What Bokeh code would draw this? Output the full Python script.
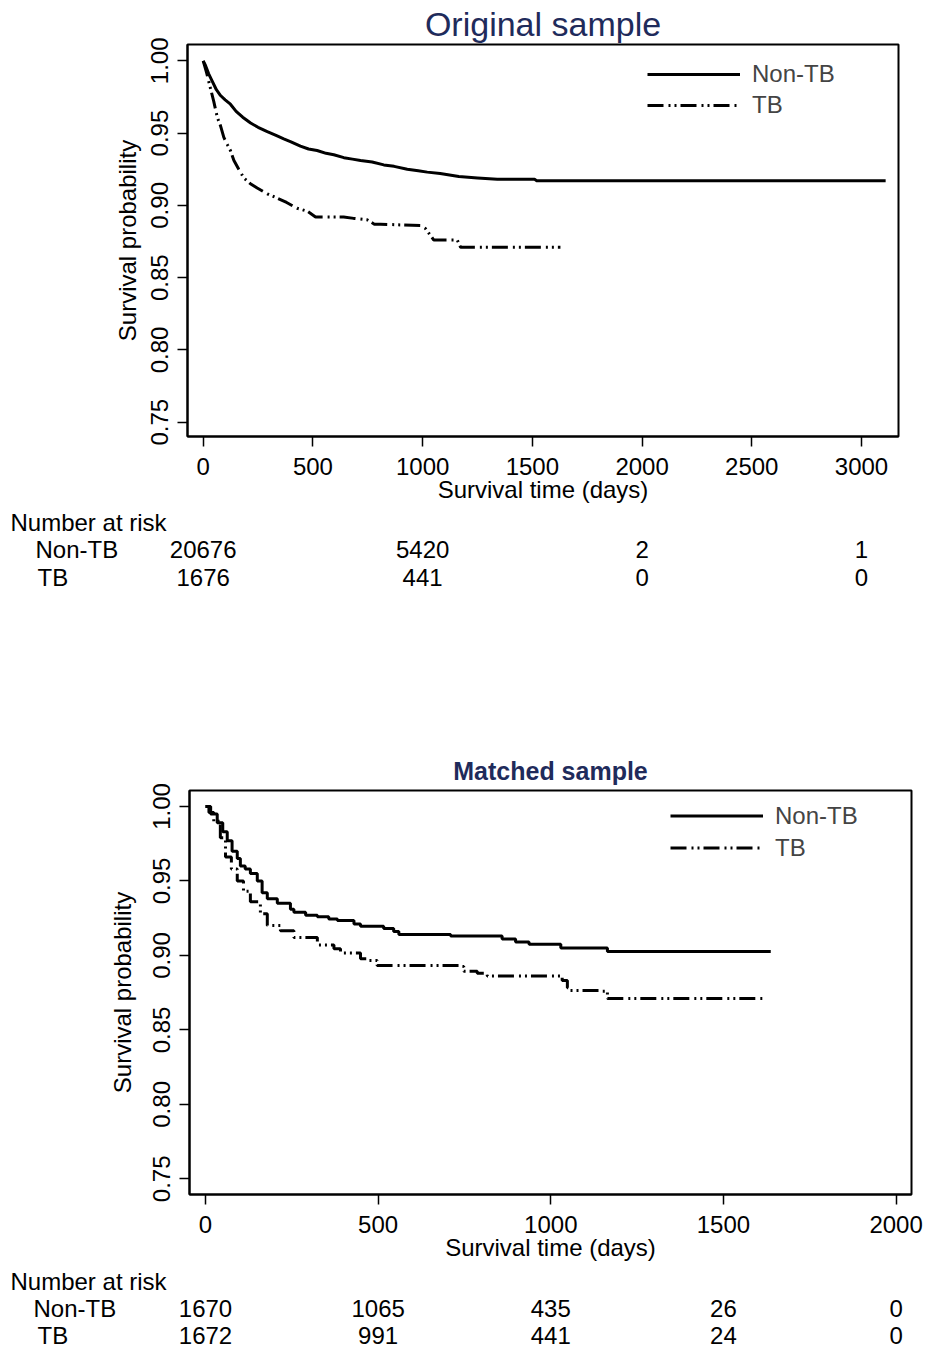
from bokeh.plotting import figure
from bokeh.models import (Label, LabelSet, ColumnDataSource, FixedTicker, Legend,
                          LegendItem, PrintfTickFormatter, Range1d)
from bokeh.core.properties import value
from bokeh.layouts import column
from bokeh.embed import file_html
from bokeh.resources import INLINE

# ---------------- data: original sample ----------------
orig_nontb_t = [0, 10, 25, 41, 60, 79, 100, 124, 150, 180, 216, 250, 292, 337, 367, 400, 443,
                480, 519, 560, 595, 641, 680, 717, 770, 823, 870, 930, 980, 1021, 1080, 1165,
                1250, 1340, 1510, 1520, 3110]
orig_nontb_s = [1.000, 0.997, 0.991, 0.986, 0.980, 0.976, 0.973, 0.970, 0.965, 0.961, 0.957,
                0.954, 0.951, 0.948, 0.946, 0.944, 0.941, 0.939, 0.938, 0.936, 0.935, 0.933,
                0.932, 0.931, 0.930, 0.928, 0.927, 0.925, 0.924, 0.923, 0.922, 0.920, 0.919,
                0.918, 0.918, 0.917, 0.917]
orig_tb_t = [0, 15, 33, 48, 64, 79, 94, 110, 124, 140, 162, 185, 215, 246, 292, 337, 380, 428,
             474, 512, 640, 686, 747, 780, 808, 990, 1013, 1051, 1158, 1173, 1628]
orig_tb_s = [1.000, 0.992, 0.981, 0.972, 0.961, 0.955, 0.947, 0.942, 0.938, 0.931, 0.925, 0.919,
             0.915, 0.912, 0.908, 0.905, 0.902, 0.898, 0.896, 0.892, 0.892, 0.891, 0.890, 0.887,
             0.887, 0.886, 0.884, 0.876, 0.876, 0.871, 0.871]
orig_risk_times = [0, 1000, 2000, 3000]
orig_risk_nontb = [20676, 5420, 2, 1]
orig_risk_tb = [1676, 441, 0, 0]
orig_xticks = [0, 500, 1000, 1500, 2000, 2500, 3000]

# ---------------- data: matched sample ----------------
match_nontb_t = [0, 15, 34, 50, 63, 77, 92, 101, 115, 130, 150, 164, 179, 208, 246, 256, 290, 324,
                 357, 382, 430, 449, 516, 545, 560, 705, 710, 854, 859, 898, 937, 1024, 1029,
                 1159, 1164, 1637]
match_nontb_s = [1.000, 0.995, 0.989, 0.983, 0.977, 0.970, 0.965, 0.960, 0.958, 0.955, 0.950,
                 0.942, 0.938, 0.935, 0.931, 0.929, 0.927, 0.926, 0.9245, 0.9235, 0.921, 0.9195,
                 0.918, 0.916, 0.914, 0.914, 0.913, 0.913, 0.911, 0.909, 0.9075, 0.9075, 0.905,
                 0.905, 0.9027, 0.9027]
match_tb_t = [0, 10, 24, 43, 58, 75, 92, 110, 130, 159, 179, 217, 256, 324, 372, 391, 449, 468,
              497, 739, 748, 787, 816, 1009, 1033, 1048, 1057, 1149, 1164, 1622]
match_tb_s = [1.000, 0.996, 0.990, 0.979, 0.966, 0.958, 0.950, 0.943, 0.936, 0.928, 0.920,
              0.9165, 0.912, 0.907, 0.9045, 0.9016, 0.8978, 0.8966, 0.8933, 0.8926, 0.8893,
              0.8881, 0.8862, 0.8862, 0.8832, 0.8783, 0.8765, 0.876, 0.871, 0.871]
match_risk_times = [0, 500, 1000, 1500, 2000]
match_risk_nontb = [1670, 1065, 435, 26, 0]
match_risk_tb = [1672, 991, 441, 24, 0]
match_xticks = [0, 500, 1000, 1500, 2000]

yticks = [0.75, 0.80, 0.85, 0.90, 0.95, 1.00]
group_names = ["Non-TB", "TB"]
x_title = "Survival time (days)"
y_title = "Survival probability"
risk_title = "Number at risk"

FONT = "Liberation Sans"
NAVY = "#1f2b5b"
TB_DASH = "16 5 2 4 2 4"
W = 925


def main_plot(title, bold, title_size, title_standoff, height, frame, xr, yr, xticks,
              nontb_t, nontb_s, tb_t, tb_s, mode, legend_loc, legend_gh, ylab_standoff):
    left, top, right, bottom = frame
    p = figure(width=W, height=height, output_backend="svg", toolbar_location=None,
               x_range=Range1d(*xr), y_range=Range1d(*yr),
               min_border_left=left, min_border_top=top,
               min_border_right=right, min_border_bottom=bottom,
               title=title, frame_align=False)
    p.title.text_font = FONT
    p.title.text_font_size = title_size
    p.title.text_font_style = "bold" if bold else "normal"
    p.title.text_color = NAVY
    p.title.align = "center"
    p.title.standoff = title_standoff
    p.xgrid.visible = False
    p.ygrid.visible = False
    p.outline_line_color = "black"
    p.outline_line_width = 2

    if mode == "line":
        r1 = p.line(nontb_t, nontb_s, line_color="black", line_width=3, line_join="round")
        r2 = p.line(tb_t, tb_s, line_color="black", line_width=3, line_dash=TB_DASH)
    else:
        r1 = p.step(nontb_t, nontb_s, mode="after", line_color="black", line_width=3)
        r2 = p.step(tb_t, tb_s, mode="after", line_color="black", line_width=3,
                    line_dash=TB_DASH)

    for ax in (p.xaxis[0], p.yaxis[0]):
        ax.axis_line_width = 2
        ax.major_tick_line_width = 1.5
        ax.major_tick_out = 10
        ax.major_tick_in = 0
        ax.minor_tick_line_color = None
        ax.major_label_text_font = FONT
        ax.major_label_text_font_size = "24px"
        ax.major_label_text_color = "black"
        ax.axis_label_text_font = FONT
        ax.axis_label_text_font_size = "24px"
        ax.axis_label_text_font_style = "normal"
        ax.axis_label_text_color = "black"

    p.xaxis.ticker = FixedTicker(ticks=xticks)
    p.xaxis.axis_label = x_title
    p.xaxis.major_label_standoff = 11
    p.xaxis.axis_label_standoff = -2

    p.yaxis.ticker = FixedTicker(ticks=yticks)
    p.yaxis.formatter = PrintfTickFormatter(format="%.2f")
    p.yaxis.major_label_orientation = "vertical"
    p.yaxis.major_label_standoff = 9
    p.yaxis.axis_label = y_title
    p.yaxis.axis_label_standoff = ylab_standoff

    legend = Legend(items=[LegendItem(label=group_names[0], renderers=[r1]),
                           LegendItem(label=group_names[1], renderers=[r2])],
                    location=legend_loc, padding=0, margin=0, spacing=3,
                    glyph_width=93, glyph_height=legend_gh, label_height=legend_gh,
                    label_standoff=12, border_line_color=None,
                    background_fill_alpha=0, label_text_font=FONT,
                    label_text_font_size="24px", label_text_baseline="middle")
    p.add_layout(legend)
    return p


def table_plot(height, frame_lr, xr, rows_y, rowlab_x, risk_t, risk_a, risk_b):
    L, R = frame_lr
    scale = (xr[1] - xr[0]) / (R - L)
    t = figure(width=W, height=height, output_backend="svg", toolbar_location=None,
               x_axis_type=None, y_axis_type=None,
               x_range=Range1d(xr[0] - L * scale, xr[0] + (W - L) * scale),
               y_range=Range1d(0, 1), min_border=0, frame_align=False)
    t.outline_line_color = None
    t.xgrid.visible = False
    t.ygrid.visible = False
    y_head, y_a, y_b = rows_y
    x_head, x_a, x_b = rowlab_x
    lab = dict(text_font=FONT, text_font_size="24px", text_baseline="middle",
               text_color="black")
    labset = dict(text_font=value(FONT), text_font_size=value("24px"),
                  text_baseline="middle", text_color="black")
    t.add_layout(Label(x=x_head, y=y_head, x_units="screen", y_units="screen",
                       text=risk_title, **lab))
    for name, xl, yl, vals in ((group_names[0], x_a, y_a, risk_a),
                               (group_names[1], x_b, y_b, risk_b)):
        t.add_layout(Label(x=xl, y=yl, x_units="screen", y_units="screen", text=name,
                           **lab))
        src = ColumnDataSource(dict(x=risk_t, y=[yl] * len(risk_t),
                                    text=[str(v) for v in vals]))
        t.add_layout(LabelSet(x="x", y="y", text="text", source=src, x_units="data",
                              y_units="screen", text_align="center", **labset))
    return t


# ---- top panel ----
xr1 = (-71.6, 3168.6)
p1 = main_plot("Original sample", False, "34px", 3, 509, (187, 44, 27, 73),
               xr1, (0.7401, 1.0113), orig_xticks,
               orig_nontb_t, orig_nontb_s, orig_tb_t, orig_tb_s, "line",
               (460, 317), 26, 8)
t1 = table_plot(111, (187, 898), xr1, (98, 71, 43), (10, 35, 37),
                orig_risk_times, orig_risk_nontb, orig_risk_tb)

# ---- bottom panel ----
xr2 = (-46.3, 2044.6)
p2 = main_plot("Matched sample", True, "25px", 12, 647, (189, 170, 14, 73),
               xr2, (0.7395, 1.0107), match_xticks,
               match_nontb_t, match_nontb_s, match_tb_t, match_tb_s, "step",
               (481, 332), 29, 15)
t2 = table_plot(84, (189, 911), xr2, (70, 43, 16), (10, 33, 37),
                match_risk_times, match_risk_nontb, match_risk_tb)

layout = column(p1, t1, p2, t2, spacing=0)
open("out.html", "w").write(file_html(layout, INLINE))
